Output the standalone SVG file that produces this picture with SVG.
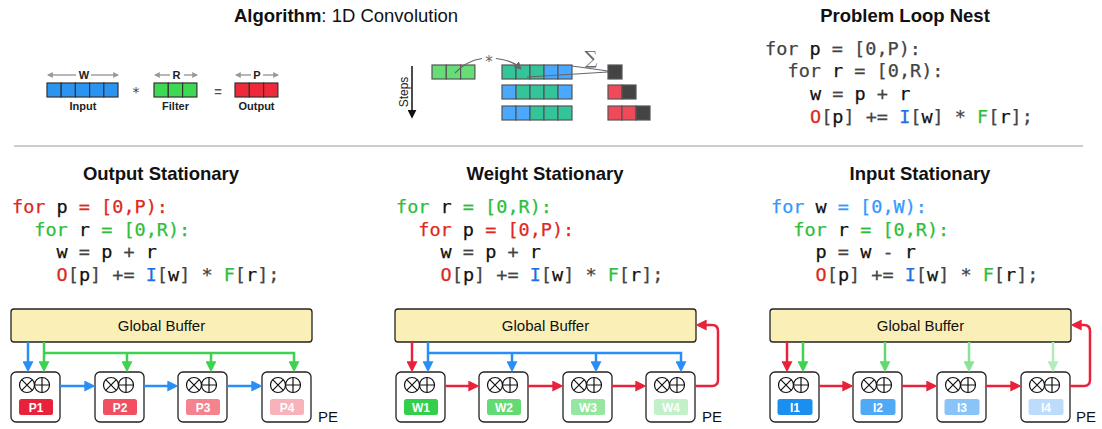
<svg xmlns="http://www.w3.org/2000/svg" xmlns:xlink="http://www.w3.org/1999/xlink" width="1102" height="429" viewBox="0 0 1102 429">
  <style>
    .title { font-family: "Liberation Sans", Arial, sans-serif; font-size: 18.5px; font-weight: bold; fill: #111; }
    .code { font-family: "DejaVu Sans Mono", "Liberation Mono", monospace; font-size: 18.5px; fill: #444; stroke: #444; stroke-width: 0.25; }
    .v { fill: #111; stroke: #111; }
    .red { fill: #e0281e; stroke: #e0281e; }
    .grn { fill: #2ebd3c; stroke: #2ebd3c; }
    .blu { fill: #1f6fe0; stroke: #1f6fe0; }
    .lblu { fill: #3399ff; stroke: #3399ff; }
    .lbl { font-family: "Liberation Sans", Arial, sans-serif; font-size: 11px; font-weight: bold; fill: #222; text-anchor: middle; }
    .buf { fill: #fbefb8; stroke: #222; stroke-width: 1.3; }
    .buftxt { font-family: "Liberation Sans", Arial, sans-serif; font-size: 15px; fill: #111; text-anchor: middle; }
    .pebox { fill: #fff; stroke: #222; stroke-width: 1.3; }
    .op { fill: none; stroke: #111; stroke-width: 1.2; }
    .badge { font-family: "Liberation Sans", Arial, sans-serif; font-size: 12px; font-weight: bold; fill: #fff; text-anchor: middle; }
    .pe { font-family: "Liberation Sans", Arial, sans-serif; font-size: 15px; fill: #111; }
    .cell { stroke: #333; stroke-width: 1.2; }
    .scell { stroke: #555; stroke-width: 1.2; }
    .w { fill: none; stroke-width: 2.5; }
    .dim { fill: none; stroke: #999; stroke-width: 1.4; }
  </style>
  <defs>
    <marker id="ah-blue" viewBox="0 0 10 10" markerWidth="11" markerHeight="11" refX="7" refY="5" orient="auto" markerUnits="userSpaceOnUse"><path d="M0,0 L10,5 L0,10 z" fill="#2a8ef5"/></marker>
    <marker id="ah-red" viewBox="0 0 10 10" markerWidth="11" markerHeight="11" refX="7" refY="5" orient="auto" markerUnits="userSpaceOnUse"><path d="M0,0 L10,5 L0,10 z" fill="#e8223a"/></marker>
    <marker id="ah-g1" viewBox="0 0 10 10" markerWidth="11" markerHeight="11" refX="7" refY="5" orient="auto" markerUnits="userSpaceOnUse"><path d="M0,0 L10,5 L0,10 z" fill="#3fd150"/></marker>
    <marker id="ah-g2" viewBox="0 0 10 10" markerWidth="11" markerHeight="11" refX="7" refY="5" orient="auto" markerUnits="userSpaceOnUse"><path d="M0,0 L10,5 L0,10 z" fill="#62d970"/></marker>
    <marker id="ah-g3" viewBox="0 0 10 10" markerWidth="11" markerHeight="11" refX="7" refY="5" orient="auto" markerUnits="userSpaceOnUse"><path d="M0,0 L10,5 L0,10 z" fill="#8ae394"/></marker>
    <marker id="ah-g4" viewBox="0 0 10 10" markerWidth="11" markerHeight="11" refX="7" refY="5" orient="auto" markerUnits="userSpaceOnUse"><path d="M0,0 L10,5 L0,10 z" fill="#b4edbb"/></marker>
    <marker id="ah-gray" viewBox="0 0 10 10" markerWidth="6" markerHeight="6" refX="8" refY="5" orient="auto-start-reverse" markerUnits="userSpaceOnUse"><path d="M0,0 L10,5 L0,10 z" fill="#999"/></marker>
    <marker id="ah-dk" viewBox="0 0 10 10" markerWidth="8" markerHeight="8" refX="7" refY="5" orient="auto" markerUnits="userSpaceOnUse"><path d="M0,0 L10,5 L0,10 z" fill="#666"/></marker>
    <marker id="ah-blk" viewBox="0 0 10 10" markerWidth="9" markerHeight="9" refX="7" refY="5" orient="auto" markerUnits="userSpaceOnUse"><path d="M0,0 L10,5 L0,10 z" fill="#111"/></marker>
    <!-- processing element shell: box with multiplier and adder symbols -->
    <g id="pe-core">
      <rect class="pebox" x="0" y="0" width="49" height="50" rx="5"/>
      <circle class="op" cx="16" cy="13" r="7.5"/>
      <path class="op" d="M10.7,7.7 L21.3,18.3 M21.3,7.7 L10.7,18.3"/>
      <circle class="op" cx="31" cy="13" r="7.5"/>
      <path class="op" d="M23.5,13 H38.5 M31,5.5 V20.5"/>
    </g>
  </defs>

  <!-- ===== Algorithm: 1D Convolution ===== -->
  <g id="algorithm">
    <text x="234" y="22" class="title" style="font-weight:normal"><tspan font-weight="bold">Algorithm</tspan>: 1D Convolution</text>
    <!-- dimension arrows -->
    <path class="dim" d="M76,75 H48" marker-end="url(#ah-gray)"/>
    <path class="dim" d="M91,75 H118" marker-end="url(#ah-gray)"/>
    <text x="84" y="79" class="lbl">W</text>
    <path class="dim" d="M170,75 H155" marker-end="url(#ah-gray)"/>
    <path class="dim" d="M184,75 H197" marker-end="url(#ah-gray)"/>
    <text x="176.5" y="79" class="lbl">R</text>
    <path class="dim" d="M251,75 H236" marker-end="url(#ah-gray)"/>
    <path class="dim" d="M263,75 H278" marker-end="url(#ah-gray)"/>
    <text x="257" y="79" class="lbl">P</text>
    <!-- input -->
    <g fill="#2b94f0" class="cell">
      <rect x="47" y="83" width="14.2" height="14"/><rect x="61.2" y="83" width="14.2" height="14"/><rect x="75.4" y="83" width="14.2" height="14"/><rect x="89.6" y="83" width="14.2" height="14"/><rect x="103.8" y="83" width="14.2" height="14"/>
    </g>
    <text x="136" y="97" font-family="DejaVu Sans, sans-serif" font-size="14" fill="#444" text-anchor="middle">*</text>
    <!-- filter -->
    <g fill="#3ed953" class="cell">
      <rect x="154" y="83" width="14.3" height="14"/><rect x="168.3" y="83" width="14.3" height="14"/><rect x="182.6" y="83" width="14.3" height="14"/>
    </g>
    <text x="218" y="96" font-family="Liberation Sans, sans-serif" font-size="13" font-weight="bold" fill="#555" text-anchor="middle">=</text>
    <!-- output -->
    <g fill="#ee2a3a" class="cell">
      <rect x="235" y="83" width="14.3" height="14"/><rect x="249.3" y="83" width="14.3" height="14"/><rect x="263.6" y="83" width="14.3" height="14"/>
    </g>
    <text x="83" y="110" class="lbl">Input</text>
    <text x="175.5" y="110" class="lbl">Filter</text>
    <text x="256.5" y="110" class="lbl">Output</text>
  </g>

  <!-- sliding-window steps -->
  <g id="steps">
    <path d="M412,66 V116" stroke="#111" stroke-width="1.5" marker-end="url(#ah-blk)"/>
    <text transform="translate(408,92) rotate(-90)" font-family="Liberation Sans, sans-serif" font-size="12" fill="#222" text-anchor="middle">Steps</text>
    <g fill="#66dd77" class="scell">
      <rect x="432" y="65" width="14.3" height="14"/><rect x="446.3" y="65" width="14.3" height="14"/><rect x="460.6" y="65" width="14.3" height="14"/>
    </g>
    <!-- row 1 -->
    <rect class="scell" fill="#33c49a" x="502" y="65" width="14" height="14"/>
    <rect class="scell" fill="#33c49a" x="516" y="65" width="14" height="14"/>
    <rect class="scell" fill="#33c49a" x="530" y="65" width="14" height="14"/>
    <rect class="scell" fill="#4aa8ff" x="544" y="65" width="14" height="14"/>
    <rect class="scell" fill="#4aa8ff" x="558" y="65" width="14" height="14"/>
    <!-- row 2 -->
    <rect class="scell" fill="#4aa8ff" x="502" y="85" width="14" height="14"/>
    <rect class="scell" fill="#33c49a" x="516" y="85" width="14" height="14"/>
    <rect class="scell" fill="#33c49a" x="530" y="85" width="14" height="14"/>
    <rect class="scell" fill="#33c49a" x="544" y="85" width="14" height="14"/>
    <rect class="scell" fill="#4aa8ff" x="558" y="85" width="14" height="14"/>
    <!-- row 3 -->
    <rect class="scell" fill="#4aa8ff" x="502" y="106" width="14" height="14"/>
    <rect class="scell" fill="#4aa8ff" x="516" y="106" width="14" height="14"/>
    <rect class="scell" fill="#33c49a" x="530" y="106" width="14" height="14"/>
    <rect class="scell" fill="#33c49a" x="544" y="106" width="14" height="14"/>
    <rect class="scell" fill="#33c49a" x="558" y="106" width="14" height="14"/>
    <!-- outputs -->
    <rect class="scell" fill="#444" x="608" y="65" width="14" height="14"/>
    <rect class="scell" fill="#f04a5a" x="608" y="85" width="14" height="14"/>
    <rect class="scell" fill="#444" x="622" y="85" width="14" height="14"/>
    <rect class="scell" fill="#f04a5a" x="608" y="106" width="14" height="14"/>
    <rect class="scell" fill="#f04a5a" x="622" y="106" width="14" height="14"/>
    <rect class="scell" fill="#444" x="636" y="106" width="14" height="14"/>
    <!-- reduction lines -->
    <path d="M572,66 L608,71 M527,77 L608,72" stroke="#666" stroke-width="1.2" fill="none"/>
    <text x="591" y="64" font-family="DejaVu Serif, serif" font-size="18" font-weight="200" fill="#666" text-anchor="middle">∑</text>
    <!-- multiply arc -->
    <path d="M455,73 Q466,61 482,58.5" stroke="#666" stroke-width="1.2" fill="none"/>
    <path d="M496,58.5 Q512,60 520,68" stroke="#666" stroke-width="1.2" fill="none" marker-end="url(#ah-dk)"/>
    <text x="489" y="67" font-family="DejaVu Sans, sans-serif" font-size="15" fill="#666" text-anchor="middle">*</text>
  </g>

  <!-- ===== Problem loop nest ===== -->
  <g id="loop-nest">
    <text x="905" y="22" class="title" text-anchor="middle">Problem Loop Nest</text>
    <text x="765" y="55" class="code">for <tspan class="v">p</tspan> = [0,P):</text>
    <text x="787.5" y="77" class="code">for <tspan class="v">r</tspan> = [0,R):</text>
    <text x="810" y="100" class="code"><tspan class="v">w</tspan> = <tspan class="v">p</tspan> + <tspan class="v">r</tspan></text>
    <text x="810" y="123" class="code"><tspan class="red">O</tspan>[<tspan class="v">p</tspan>] += <tspan class="blu">I</tspan>[<tspan class="v">w</tspan>] * <tspan class="grn">F</tspan>[<tspan class="v">r</tspan>];</text>
  </g>

  <line x1="14" y1="146" x2="1083" y2="146" stroke="#9a9a9a" stroke-width="1"/>

  <!-- ===== Output stationary ===== -->
  <g id="output-stationary">
    <text x="161" y="180" class="title" text-anchor="middle">Output Stationary</text>
    <text x="12" y="213" class="code"><tspan class="red">for</tspan> <tspan class="v">p</tspan> <tspan class="red">= [0,P):</tspan></text>
    <text x="34.3" y="236" class="code"><tspan class="grn">for</tspan> <tspan class="v">r</tspan> <tspan class="grn">= [0,R):</tspan></text>
    <text x="56.6" y="258" class="code"><tspan class="v">w</tspan> = <tspan class="v">p</tspan> + <tspan class="v">r</tspan></text>
    <text x="56.6" y="281" class="code"><tspan class="red">O</tspan>[<tspan class="v">p</tspan>] += <tspan class="blu">I</tspan>[<tspan class="v">w</tspan>] * <tspan class="grn">F</tspan>[<tspan class="v">r</tspan>];</text>
  </g>
  <g id="os-buffer">
    <rect class="buf" x="11" y="309" width="301" height="33" rx="3"/>
    <text x="161.5" y="331" class="buftxt">Global Buffer</text>
  </g>
  <g id="os-pe1"><use xlink:href="#pe-core" x="11" y="372"/><rect x="19" y="399" width="34" height="16" rx="2.5" fill="#e8223a"/><text x="36" y="412" class="badge">P1</text></g>
  <g id="os-pe2"><use xlink:href="#pe-core" x="95" y="372"/><rect x="103" y="399" width="34" height="16" rx="2.5" fill="#f0505f"/><text x="120" y="412" class="badge">P2</text></g>
  <g id="os-pe3"><use xlink:href="#pe-core" x="178" y="372"/><rect x="186" y="399" width="34" height="16" rx="2.5" fill="#f4838e"/><text x="203" y="412" class="badge">P3</text></g>
  <g id="os-pe4"><use xlink:href="#pe-core" x="262" y="372"/><rect x="270" y="399" width="34" height="16" rx="2.5" fill="#f8b3ba"/><text x="287" y="412" class="badge">P4</text></g>
  <text x="318" y="422" class="pe">PE</text>

  <!-- ===== Weight stationary ===== -->
  <g id="weight-stationary">
    <text x="545" y="180" class="title" text-anchor="middle">Weight Stationary</text>
    <text x="396" y="213" class="code"><tspan class="grn">for</tspan> <tspan class="v">r</tspan> <tspan class="grn">= [0,R):</tspan></text>
    <text x="418.3" y="236" class="code"><tspan class="red">for</tspan> <tspan class="v">p</tspan> <tspan class="red">= [0,P):</tspan></text>
    <text x="440.6" y="258" class="code"><tspan class="v">w</tspan> = <tspan class="v">p</tspan> + <tspan class="v">r</tspan></text>
    <text x="440.6" y="281" class="code"><tspan class="red">O</tspan>[<tspan class="v">p</tspan>] += <tspan class="blu">I</tspan>[<tspan class="v">w</tspan>] * <tspan class="grn">F</tspan>[<tspan class="v">r</tspan>];</text>
  </g>
  <g id="ws-buffer">
    <rect class="buf" x="395" y="309" width="301" height="33" rx="3"/>
    <text x="545.5" y="331" class="buftxt">Global Buffer</text>
  </g>
  <g id="ws-pe1"><use xlink:href="#pe-core" x="396" y="372"/><rect x="404" y="399" width="34" height="16" rx="2.5" fill="#33cf4a"/><text x="421" y="412" class="badge">W1</text></g>
  <g id="ws-pe2"><use xlink:href="#pe-core" x="479" y="372"/><rect x="487" y="399" width="34" height="16" rx="2.5" fill="#64da74"/><text x="504" y="412" class="badge">W2</text></g>
  <g id="ws-pe3"><use xlink:href="#pe-core" x="563" y="372"/><rect x="571" y="399" width="34" height="16" rx="2.5" fill="#94e6a0"/><text x="588" y="412" class="badge">W3</text></g>
  <g id="ws-pe4"><use xlink:href="#pe-core" x="646" y="372"/><rect x="654" y="399" width="34" height="16" rx="2.5" fill="#c2f0c9"/><text x="671" y="412" class="badge">W4</text></g>
  <text x="702" y="422" class="pe">PE</text>

  <!-- ===== Input stationary ===== -->
  <g id="input-stationary">
    <text x="920" y="180" class="title" text-anchor="middle">Input Stationary</text>
    <text x="771" y="213" class="code"><tspan class="lblu">for</tspan> <tspan class="v">w</tspan> <tspan class="lblu">= [0,W):</tspan></text>
    <text x="793.3" y="236" class="code"><tspan class="grn">for</tspan> <tspan class="v">r</tspan> <tspan class="grn">= [0,R):</tspan></text>
    <text x="815.6" y="258" class="code"><tspan class="v">p</tspan> = <tspan class="v">w</tspan> - <tspan class="v">r</tspan></text>
    <text x="815.6" y="281" class="code"><tspan class="red">O</tspan>[<tspan class="v">p</tspan>] += <tspan class="blu">I</tspan>[<tspan class="v">w</tspan>] * <tspan class="grn">F</tspan>[<tspan class="v">r</tspan>];</text>
  </g>
  <g id="is-buffer">
    <rect class="buf" x="770" y="309" width="301" height="33" rx="3"/>
    <text x="920.5" y="331" class="buftxt">Global Buffer</text>
  </g>
  <g id="is-pe1"><use xlink:href="#pe-core" x="770" y="372"/><rect x="777.5" y="399" width="35" height="16" rx="2.5" fill="#1a8ff0"/><text x="795" y="412" class="badge">I1</text></g>
  <g id="is-pe2"><use xlink:href="#pe-core" x="853" y="372"/><rect x="860.5" y="399" width="35" height="16" rx="2.5" fill="#50a9f5"/><text x="878" y="412" class="badge">I2</text></g>
  <g id="is-pe3"><use xlink:href="#pe-core" x="937" y="372"/><rect x="944.5" y="399" width="35" height="16" rx="2.5" fill="#88c4f8"/><text x="962" y="412" class="badge">I3</text></g>
  <g id="is-pe4"><use xlink:href="#pe-core" x="1021" y="372"/><rect x="1028.5" y="399" width="35" height="16" rx="2.5" fill="#bddcfb"/><text x="1046" y="412" class="badge">I4</text></g>
  <text x="1076" y="422" class="pe">PE</text>

  <!-- ===== dataflow connectors ===== -->
  <g id="connectors">
    <!-- output stationary: inputs forwarded, weights broadcast -->
    <path class="w" stroke="#2a8ef5" d="M28,342 V369" marker-end="url(#ah-blue)"/>
    <path class="w" stroke="#3fd150" d="M44,342 V369" marker-end="url(#ah-g1)"/>
    <path class="w" stroke="#3fd150" d="M44,353 H294 V369" marker-end="url(#ah-g1)"/>
    <path class="w" stroke="#3fd150" d="M127,353 V369" marker-end="url(#ah-g1)"/>
    <path class="w" stroke="#3fd150" d="M211,353 V369" marker-end="url(#ah-g1)"/>
    <path class="w" stroke="#2a8ef5" d="M60,386 H92" marker-end="url(#ah-blue)"/>
    <path class="w" stroke="#2a8ef5" d="M144,386 H175" marker-end="url(#ah-blue)"/>
    <path class="w" stroke="#2a8ef5" d="M227,386 H259" marker-end="url(#ah-blue)"/>

    <!-- weight stationary: inputs broadcast, partial sums chained -->
    <path class="w" stroke="#e8223a" d="M412,342 V369" marker-end="url(#ah-red)"/>
    <path class="w" stroke="#2a8ef5" d="M428,342 V369" marker-end="url(#ah-blue)"/>
    <path class="w" stroke="#2a8ef5" d="M428,353 H681 V369" marker-end="url(#ah-blue)"/>
    <path class="w" stroke="#2a8ef5" d="M512,353 V369" marker-end="url(#ah-blue)"/>
    <path class="w" stroke="#2a8ef5" d="M596,353 V369" marker-end="url(#ah-blue)"/>
    <path class="w" stroke="#e8223a" d="M445,386 H476" marker-end="url(#ah-red)"/>
    <path class="w" stroke="#e8223a" d="M528,386 H560" marker-end="url(#ah-red)"/>
    <path class="w" stroke="#e8223a" d="M612,386 H643" marker-end="url(#ah-red)"/>
    <path class="w" stroke="#e8223a" d="M695,386 H712 Q718,386 718,380 V331 Q718,325 712,325 H699" marker-end="url(#ah-red)"/>

    <!-- input stationary: weights per PE, partial sums chained -->
    <path class="w" stroke="#e8223a" d="M787,342 V369" marker-end="url(#ah-red)"/>
    <path class="w" stroke="#3fd150" d="M803,342 V369" marker-end="url(#ah-g1)"/>
    <path class="w" stroke="#62d970" d="M885,342 V369" marker-end="url(#ah-g2)"/>
    <path class="w" stroke="#8ae394" d="M969,342 V369" marker-end="url(#ah-g3)"/>
    <path class="w" stroke="#b4edbb" d="M1053,342 V369" marker-end="url(#ah-g4)"/>
    <path class="w" stroke="#e8223a" d="M819,386 H850" marker-end="url(#ah-red)"/>
    <path class="w" stroke="#e8223a" d="M902,386 H934" marker-end="url(#ah-red)"/>
    <path class="w" stroke="#e8223a" d="M986,386 H1018" marker-end="url(#ah-red)"/>
    <path class="w" stroke="#e8223a" d="M1070,386 H1084 Q1090,386 1090,380 V331 Q1090,325 1084,325 H1074" marker-end="url(#ah-red)"/>
  </g>
</svg>
